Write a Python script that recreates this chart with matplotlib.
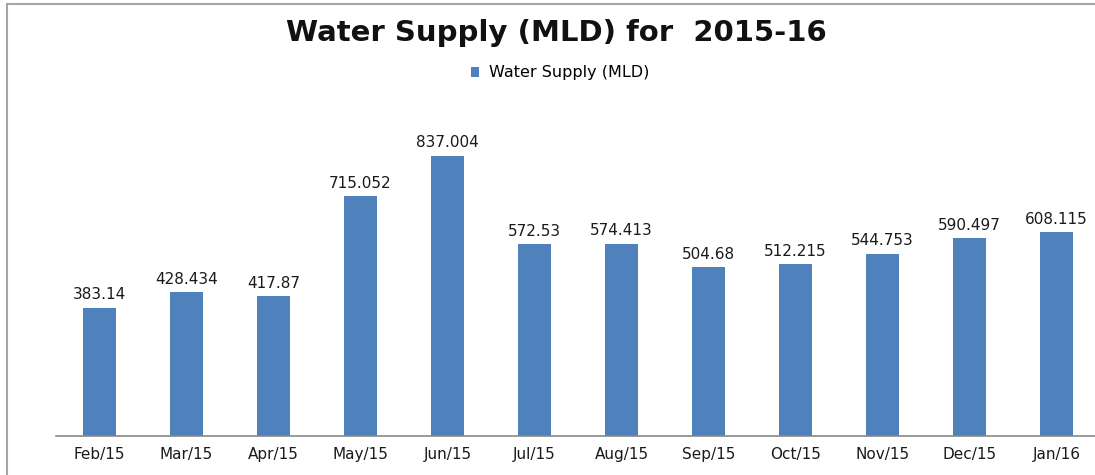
import matplotlib.pyplot as plt
from matplotlib.patches import Rectangle

months = ['Feb/15', 'Mar/15', 'Apr/15', 'May/15', 'Jun/15', 'Jul/15',
          'Aug/15', 'Sep/15', 'Oct/15', 'Nov/15', 'Dec/15', 'Jan/16']
supply = [383.14, 428.434, 417.87, 715.052, 837.004, 572.53,
          574.413, 504.68, 512.215, 544.753, 590.497, 608.115]
labels = ['383.14', '428.434', '417.87', '715.052', '837.004', '572.53',
          '574.413', '504.68', '512.215', '544.753', '590.497', '608.115']

plt.rcParams['font.family'] = ['DejaVu Sans']

fig = plt.figure(figsize=(10.95, 4.75), dpi=100)
W, H = 1095, 475
# plot area in pixel terms: x from 56 to 1100, y baseline 436, top 101
ax = fig.add_axes([56 / W, (H - 436) / H, 1044 / W, 335 / H])

x = range(len(months))
bars = ax.bar(x, supply, width=0.39, color='#4F81BD', label='Water Supply (MLD)')
for b, lab in zip(bars, labels):
    ax.text(b.get_x() + b.get_width() / 2, b.get_height() + 16, lab,
            ha='center', va='bottom', fontsize=11, color='#1a1a1a')

ax.set_xlim(-0.5, 11.5)
ax.set_ylim(0, 1000)
ax.set_xticks(list(x))
ax.set_xticklabels(months, fontsize=11, color='#1a1a1a')
ax.tick_params(axis='x', length=0, pad=8)
ax.set_yticks([])
for s in ['top', 'right', 'left']:
    ax.spines[s].set_visible(False)
ax.spines['bottom'].set_color('#888888')
ax.spines['bottom'].set_linewidth(1.2)

fig.text(556 / W, 1 - 33 / H, 'Water Supply (MLD) for  2015-16',
         ha='center', va='center', fontsize=21, fontweight='bold', color='#111111')
fig.legend(handles=[bars], labels=['Water Supply (MLD)'], loc='center',
           bbox_to_anchor=(560 / W, 1 - 73 / H), frameon=False, fontsize=11.5,
           handlelength=0.55, handleheight=0.55, handletextpad=0.6)

# outer chart frame
fig.patches.append(Rectangle((7 / W, -0.05), 1.1, 1 - 4 / H + 0.05,
                             transform=fig.transFigure, fill=False,
                             edgecolor='#a6a6a6', linewidth=1.5))

fig.savefig('out.png', dpi=100)
